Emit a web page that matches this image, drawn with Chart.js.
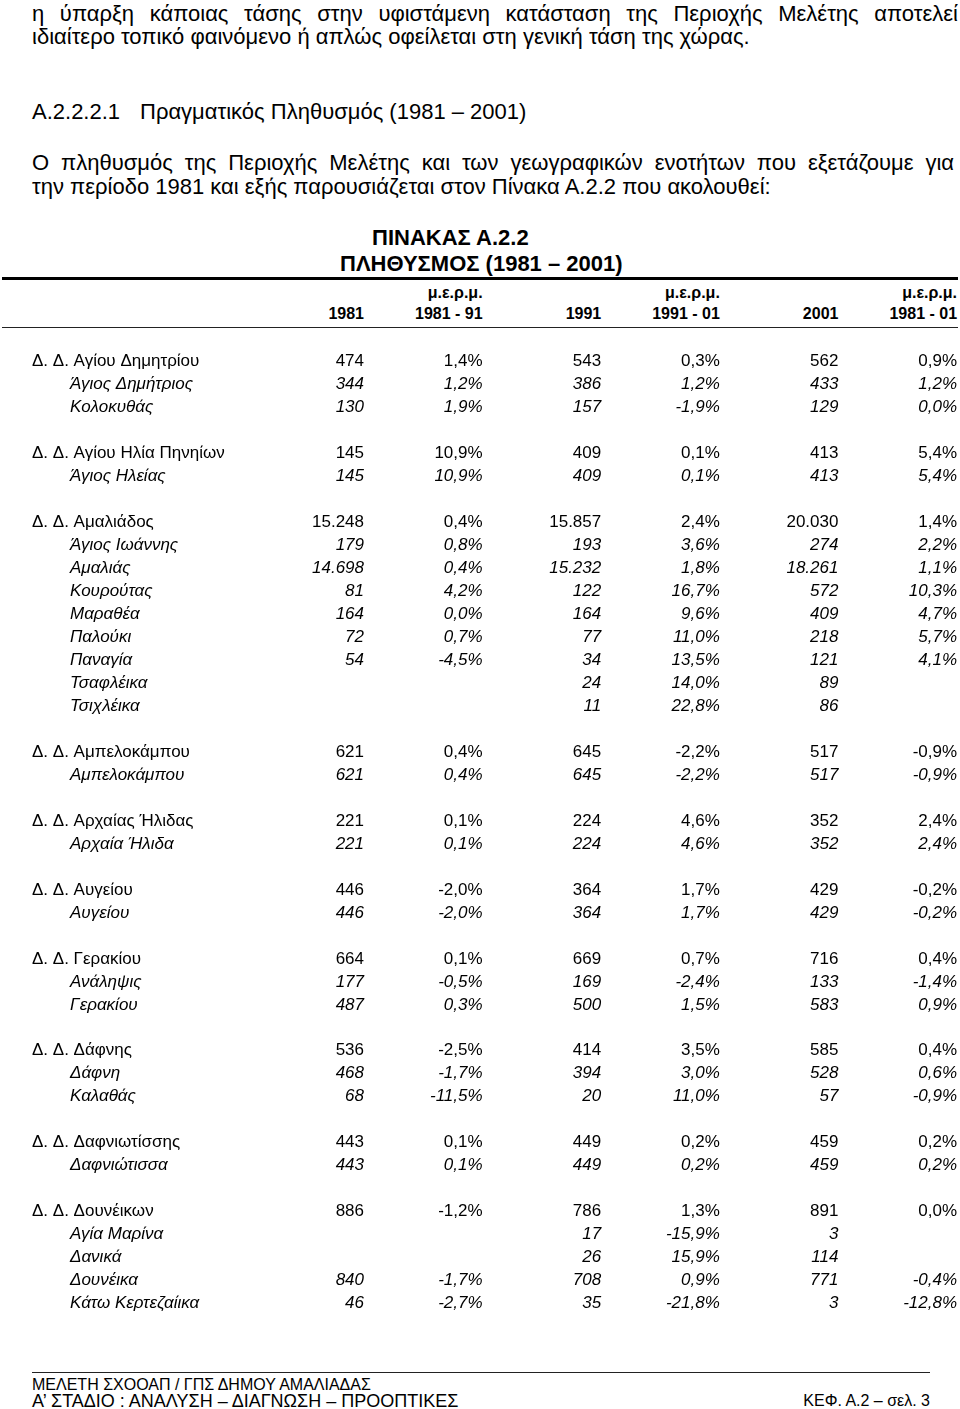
<!DOCTYPE html>
<html><head><meta charset="utf-8">
<script src="https://cdn.jsdelivr.net/npm/chart.js@4/dist/chart.umd.min.js"></script>
<style>
html,body{margin:0;padding:0;background:#fff;}
body{width:960px;height:1409px;position:relative;overflow:hidden;font-family:"Liberation Sans",Arial,sans-serif;color:#000;}
.abs{position:absolute;white-space:nowrap;}
.just{text-align:justify;text-align-last:justify;}
.p{font-size:22px;line-height:24px;}
.hd{font-size:16px;font-weight:bold;line-height:20px;text-align:right;}
#tbl{position:absolute;left:0;top:350px;}
</style></head><body>
<div class="abs just p" style="left:32px;top:2px;width:926px;">η ύπαρξη κάποιας τάσης στην υφιστάμενη κατάσταση της Περιοχής Μελέτης αποτελεί</div>
<div class="abs p" style="left:32px;top:25px;">ιδιαίτερο τοπικό φαινόμενο ή απλώς οφείλεται στη γενική τάση της χώρας.</div>
<div class="abs p" style="left:32px;top:100px;">Α.2.2.2.1</div>
<div class="abs p" style="left:140px;top:100px;">Πραγματικός Πληθυσμός (1981 – 2001)</div>
<div class="abs just p" style="left:32px;top:151px;width:922px;">Ο πληθυσμός της Περιοχής Μελέτης και των γεωγραφικών ενοτήτων που εξετάζουμε για</div>
<div class="abs p" style="left:32px;top:175px;">την περίοδο 1981 και εξής παρουσιάζεται στον Πίνακα Α.2.2 που ακολουθεί:</div>

<div class="abs" style="left:372px;top:226px;font-size:22px;font-weight:bold;line-height:24px;">ΠΙΝΑΚΑΣ Α.2.2</div>
<div class="abs" style="left:340px;top:252px;font-size:22px;font-weight:bold;line-height:24px;">ΠΛΗΘΥΣΜΟΣ (1981 – 2001)</div>
<div class="abs" style="left:2px;top:277px;width:956px;height:3px;background:#000;"></div>
<div id="hdr"></div>
<div class="abs" style="left:2px;top:327px;width:956px;height:1px;background:#222;"></div>

<canvas id="tbl" width="960" height="965"></canvas>

<div class="abs" style="left:32px;top:1372px;width:898px;height:1px;background:#222;"></div>
<div class="abs" style="left:32px;top:1376px;font-size:16px;line-height:18px;">ΜΕΛΕΤΗ ΣΧΟΟΑΠ / ΓΠΣ ΔΗΜΟΥ ΑΜΑΛΙΑΔΑΣ</div>
<div class="abs" style="left:32px;top:1391px;font-size:18px;line-height:20px;">Α’ ΣΤΑΔΙΟ : ΑΝΑΛΥΣΗ – ΔΙΑΓΝΩΣΗ – ΠΡΟΟΠΤΙΚΕΣ</div>
<div class="abs" style="right:30px;top:1391px;font-size:16px;line-height:20px;">ΚΕΦ. Α.2 – σελ. 3</div>

<script>
// ---- data ----
const headTop = ["", "μ.ε.ρ.μ.", "", "μ.ε.ρ.μ.", "", "μ.ε.ρ.μ."];
const headBottom = ["1981", "1981 - 91", "1991", "1991 - 01", "2001", "1981 - 01"];

const rows = [
  "Δ. Δ. Αγίου Δημητρίου", "Άγιος Δημήτριος", "Κολοκυθάς", "",
  "Δ. Δ. Αγίου Ηλία Πηνηίων", "Άγιος Ηλείας", "",
  "Δ. Δ. Αμαλιάδος", "Άγιος Ιωάννης", "Αμαλιάς", "Κουρούτας", "Μαραθέα", "Παλούκι", "Παναγία", "Τσαφλέικα", "Τσιχλέικα", "",
  "Δ. Δ. Αμπελοκάμπου", "Αμπελοκάμπου", "",
  "Δ. Δ. Αρχαίας Ήλιδας", "Αρχαία Ήλιδα", "",
  "Δ. Δ. Αυγείου", "Αυγείου", "",
  "Δ. Δ. Γερακίου", "Ανάληψις", "Γερακίου", "",
  "Δ. Δ. Δάφνης", "Δάφνη", "Καλαθάς", "",
  "Δ. Δ. Δαφνιωτίσσης", "Δαφνιώτισσα", "",
  "Δ. Δ. Δουνέικων", "Αγία Μαρίνα", "Δανικά", "Δουνέικα", "Κάτω Κερτεζαίικα"
];
// g = municipal district (normal), s = settlement (italic), b = blank
const rowKind = [
  "g","s","s","b",
  "g","s","b",
  "g","s","s","s","s","s","s","s","s","b",
  "g","s","b",
  "g","s","b",
  "g","s","b",
  "g","s","s","b",
  "g","s","s","b",
  "g","s","b",
  "g","s","s","s","s"
];
const pop1981 = [474,344,130,null, 145,145,null, 15248,179,14698,81,164,72,54,null,null,null, 621,621,null, 221,221,null, 446,446,null, 664,177,487,null, 536,468,68,null, 443,443,null, 886,null,null,840,46];
const gr8191  = [1.4,1.2,1.9,null, 10.9,10.9,null, 0.4,0.8,0.4,4.2,0.0,0.7,-4.5,null,null,null, 0.4,0.4,null, 0.1,0.1,null, -2.0,-2.0,null, 0.1,-0.5,0.3,null, -2.5,-1.7,-11.5,null, 0.1,0.1,null, -1.2,null,null,-1.7,-2.7];
const pop1991 = [543,386,157,null, 409,409,null, 15857,193,15232,122,164,77,34,24,11,null, 645,645,null, 224,224,null, 364,364,null, 669,169,500,null, 414,394,20,null, 449,449,null, 786,17,26,708,35];
const gr9101  = [0.3,1.2,-1.9,null, 0.1,0.1,null, 2.4,3.6,1.8,16.7,9.6,11.0,13.5,14.0,22.8,null, -2.2,-2.2,null, 4.6,4.6,null, 1.7,1.7,null, 0.7,-2.4,1.5,null, 3.5,3.0,11.0,null, 0.2,0.2,null, 1.3,-15.9,15.9,0.9,-21.8];
const pop2001 = [562,433,129,null, 413,413,null, 20030,274,18261,572,409,218,121,89,86,null, 517,517,null, 352,352,null, 429,429,null, 716,133,583,null, 585,528,57,null, 459,459,null, 891,3,114,771,3];
const gr8101  = [0.9,1.2,0.0,null, 5.4,5.4,null, 1.4,2.2,1.1,10.3,4.7,5.7,4.1,null,null,null, -0.9,-0.9,null, 2.4,2.4,null, -0.2,-0.2,null, 0.4,-1.4,0.9,null, 0.4,0.6,-0.9,null, 0.2,0.2,null, 0.0,null,null,-0.4,-12.8];

const columns = [
  {values: pop1981, kind: "pop"},
  {values: gr8191, kind: "pct"},
  {values: pop1991, kind: "pop"},
  {values: gr9101, kind: "pct"},
  {values: pop2001, kind: "pop"},
  {values: gr8101, kind: "pct"}
];

// ---- formatting ----
function fmtPop(n){
  if (n >= 1000){ const t = Math.floor(n/1000), r = n % 1000; return t + "." + String(r).padStart(3,"0"); }
  return String(n);
}
function fmtPct(v){ return v.toFixed(1).replace(".", ",") + "%"; }

const FONT = '"Liberation Sans", Arial, sans-serif';
const FS = 17;
const LABEL_X = 32, SUB_X = 70;

// x scale: column k's right edge
const X_MIN = -2.069, X_MAX = 6.025;

// header (HTML, positioned from same column geometry)
(function(){
  const hdr = document.getElementById('hdr');
  const unit = 960 / (X_MAX - X_MIN);
  headBottom.forEach((t, i) => {
    const right = (i + 1 - X_MIN) * unit;
    const a = document.createElement('div');
    a.className = 'abs hd';
    a.style.right = (960 - right) + 'px';
    a.style.top = '283px';
    a.textContent = headTop[i];
    hdr.appendChild(a);
    const b = document.createElement('div');
    b.className = 'abs hd';
    b.style.right = (960 - right) + 'px';
    b.style.top = '304px';
    b.textContent = t;
    hdr.appendChild(b);
  });
})();

const datasets = columns.map((c, ci) => ({
  label: headBottom[ci],
  kind: c.kind,
  data: c.values.map((v, ri) => v === null ? null : ({x: ci + 1, y: ri, v: v})).filter(d => d !== null),
  pointRadius: 0,
  pointHoverRadius: 0,
  pointHitRadius: 0,
  showLine: false
}));

const cellText = {
  id: 'cellText',
  afterDatasetsDraw(chart){
    const ctx = chart.ctx;
    const yScale = chart.scales.y;
    ctx.save();
    ctx.fillStyle = '#000';
    ctx.textBaseline = 'middle';
    // row labels
    ctx.textAlign = 'left';
    rows.forEach((r, i) => {
      if (!r) return;
      const y = yScale.getPixelForValue(i);
      const italic = rowKind[i] === 's';
      ctx.font = (italic ? 'italic ' : '') + FS + 'px ' + FONT;
      ctx.fillText(r, chart.chartArea.left + (italic ? SUB_X : LABEL_X), y);
    });
    // cells
    ctx.textAlign = 'right';
    chart.data.datasets.forEach((ds, di) => {
      const meta = chart.getDatasetMeta(di);
      meta.data.forEach((el, j) => {
        const d = ds.data[j];
        const italic = rowKind[d.y] === 's';
        ctx.font = (italic ? 'italic ' : '') + FS + 'px ' + FONT;
        const txt = ds.kind === 'pop' ? fmtPop(d.v) : fmtPct(d.v);
        ctx.fillText(txt, el.x, el.y);
      });
    });
    ctx.restore();
  }
};

new Chart(document.getElementById('tbl'), {
  type: 'scatter',
  data: { datasets: datasets },
  options: {
    responsive: false,
    animation: false,
    devicePixelRatio: 1,
    layout: { padding: 0 },
    plugins: { legend: { display: false }, tooltip: { enabled: false } },
    events: [],
    scales: {
      x: { type: 'linear', min: X_MIN, max: X_MAX, display: false },
      y: { type: 'linear', reverse: true, min: -0.5, max: rows.length - 0.5, display: false }
    }
  },
  plugins: [cellText]
});
</script>
</body></html>
